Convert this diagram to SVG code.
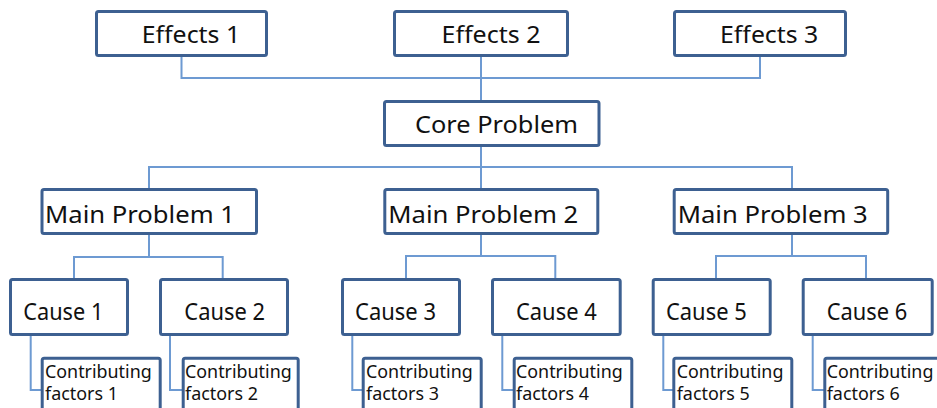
<svg xmlns="http://www.w3.org/2000/svg" width="937" height="408" viewBox="0 0 937 408">
  <style>
    .box { fill: #ffffff; stroke: #3d6091; stroke-width: 3; }
    .lbl { font-family: "Noto Sans", "Open Sans", sans-serif; fill: #111111; }
    .big { font-size: 24px; }
    .mid { font-size: 23px; }
    .small { font-size: 18px; }
    .wire { fill: none; stroke: #6d9ad2; stroke-width: 2; }
  </style>
  <rect width="937" height="408" fill="#ffffff"/>

  <g id="connectors">
    <path class="wire" d="M181.5 57 V78 H760 V57"/>
    <path class="wire" d="M481 57 V100"/>
    <path class="wire" d="M481 147 V189"/>
    <path class="wire" d="M149 188 V167 H792 V188"/>
    <path class="wire" d="M149 235 V257"/>
    <path class="wire" d="M74 278 V257 H222.7 V278"/>
    <path class="wire" d="M481 235 V256"/>
    <path class="wire" d="M406 278 V256 H555.3 V278"/>
    <path class="wire" d="M792 235 V256"/>
    <path class="wire" d="M716 278 V256 H866 V278"/>
    <path class="wire" d="M30.7 336 V390 H42"/>
    <path class="wire" d="M170 336 V390 H183"/>
    <path class="wire" d="M352.3 336 V390 H363"/>
    <path class="wire" d="M502.3 336 V390 H514"/>
    <path class="wire" d="M663.3 336 V390 H674"/>
    <path class="wire" d="M812.7 336 V390 H825"/>
  </g>

  <g id="effects1">
    <rect class="box" x="96.5" y="11.5" width="170" height="44" rx="2"/>
    <text class="lbl mid" x="141.7" y="43" textLength="98.5" lengthAdjust="spacingAndGlyphs">Effects 1</text>
  </g>
  <g id="effects2">
    <rect class="box" x="394.5" y="11.5" width="173" height="44" rx="2"/>
    <text class="lbl mid" x="441.5" y="43" textLength="99" lengthAdjust="spacingAndGlyphs">Effects 2</text>
  </g>
  <g id="effects3">
    <rect class="box" x="674.5" y="11.5" width="171" height="44" rx="2"/>
    <text class="lbl mid" x="720" y="43" textLength="98.3" lengthAdjust="spacingAndGlyphs">Effects 3</text>
  </g>

  <g id="core">
    <rect class="box" x="384.5" y="101.5" width="214.5" height="44" rx="2"/>
    <text class="lbl big" x="415" y="133" textLength="163" lengthAdjust="spacingAndGlyphs">Core Problem</text>
  </g>

  <g id="main1">
    <rect class="box" x="42" y="189.5" width="214.5" height="44" rx="2"/>
    <text class="lbl big" x="45" y="222.5" textLength="190" lengthAdjust="spacingAndGlyphs">Main Problem 1</text>
  </g>
  <g id="main2">
    <rect class="box" x="384.8" y="189.5" width="213" height="44" rx="2"/>
    <text class="lbl big" x="388.3" y="222.5" textLength="190" lengthAdjust="spacingAndGlyphs">Main Problem 2</text>
  </g>
  <g id="main3">
    <rect class="box" x="674.2" y="189.5" width="213.5" height="44" rx="2"/>
    <text class="lbl big" x="677.7" y="222.5" textLength="190" lengthAdjust="spacingAndGlyphs">Main Problem 3</text>
  </g>

  <g id="cause1">
    <rect class="box" x="10.5" y="279.5" width="117" height="55" rx="2"/>
    <text class="lbl mid" x="23.3" y="320" textLength="80" lengthAdjust="spacingAndGlyphs">Cause 1</text>
  </g>
  <g id="cause2">
    <rect class="box" x="160.5" y="279.5" width="127" height="55" rx="2"/>
    <text class="lbl mid" x="184.3" y="320" textLength="80.7" lengthAdjust="spacingAndGlyphs">Cause 2</text>
  </g>
  <g id="cause3">
    <rect class="box" x="342.5" y="279.5" width="117" height="55" rx="2"/>
    <text class="lbl mid" x="355" y="320" textLength="81" lengthAdjust="spacingAndGlyphs">Cause 3</text>
  </g>
  <g id="cause4">
    <rect class="box" x="492.5" y="279.5" width="127.7" height="55" rx="2"/>
    <text class="lbl mid" x="516" y="320" textLength="80.7" lengthAdjust="spacingAndGlyphs">Cause 4</text>
  </g>
  <g id="cause5">
    <rect class="box" x="653.2" y="279.5" width="117" height="55" rx="2"/>
    <text class="lbl mid" x="666" y="320" textLength="80.7" lengthAdjust="spacingAndGlyphs">Cause 5</text>
  </g>
  <g id="cause6">
    <rect class="box" x="803.2" y="279.5" width="129" height="55" rx="2"/>
    <text class="lbl mid" x="826.7" y="320" textLength="80.6" lengthAdjust="spacingAndGlyphs">Cause 6</text>
  </g>

  <g id="factors1">
    <rect class="box" x="42.2" y="358.2" width="118" height="70" rx="2"/>
    <text class="lbl small" x="45" y="378" textLength="106.7" lengthAdjust="spacingAndGlyphs">Contributing</text>
    <text class="lbl small" x="45" y="400" textLength="73" lengthAdjust="spacingAndGlyphs">factors 1</text>
  </g>
  <g id="factors2">
    <rect class="box" x="183.2" y="358.2" width="115" height="70" rx="2"/>
    <text class="lbl small" x="185" y="378" textLength="106.7" lengthAdjust="spacingAndGlyphs">Contributing</text>
    <text class="lbl small" x="185" y="400" textLength="73" lengthAdjust="spacingAndGlyphs">factors 2</text>
  </g>
  <g id="factors3">
    <rect class="box" x="363.2" y="358.2" width="118" height="70" rx="2"/>
    <text class="lbl small" x="366" y="378" textLength="106.7" lengthAdjust="spacingAndGlyphs">Contributing</text>
    <text class="lbl small" x="366" y="400" textLength="73" lengthAdjust="spacingAndGlyphs">factors 3</text>
  </g>
  <g id="factors4">
    <rect class="box" x="514.2" y="358.2" width="117.6" height="70" rx="2"/>
    <text class="lbl small" x="516" y="378" textLength="106.7" lengthAdjust="spacingAndGlyphs">Contributing</text>
    <text class="lbl small" x="516" y="400" textLength="73" lengthAdjust="spacingAndGlyphs">factors 4</text>
  </g>
  <g id="factors5">
    <rect class="box" x="673.8" y="358.2" width="118" height="70" rx="2"/>
    <text class="lbl small" x="676.7" y="378" textLength="106.7" lengthAdjust="spacingAndGlyphs">Contributing</text>
    <text class="lbl small" x="676.7" y="400" textLength="73" lengthAdjust="spacingAndGlyphs">factors 5</text>
  </g>
  <g id="factors6">
    <rect class="box" x="824.8" y="358.2" width="118" height="70" rx="2"/>
    <text class="lbl small" x="826.7" y="378" textLength="106.7" lengthAdjust="spacingAndGlyphs">Contributing</text>
    <text class="lbl small" x="826.7" y="400" textLength="73" lengthAdjust="spacingAndGlyphs">factors 6</text>
  </g>
</svg>
